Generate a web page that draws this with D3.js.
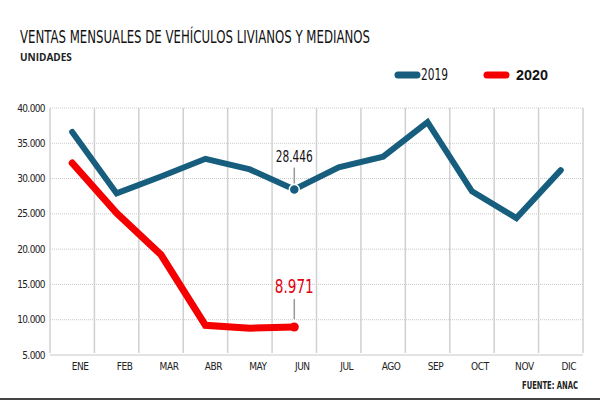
<!DOCTYPE html>
<html>
<head>
<meta charset="utf-8">
<script src="https://cdn.jsdelivr.net/npm/d3@7"></script>
<style>
  body { margin: 0; background: #fff; }
  svg { display: block; }
</style>
</head>
<body>
<svg width="600" height="400"></svg>
<script>
// datos (unidades)
const months = ["ENE","FEB","MAR","ABR","MAY","JUN","JUL","AGO","SEP","OCT","NOV","DIC"];
const sales2019 = [36600, 27900, 30300, 32800, 31300, 28446, 31600, 33100, 38000, 28200, 24400, 31200];
const sales2020 = [32200, 25100, 19200, 9200, 8800, 8971];
const yTicks = [5000, 10000, 15000, 20000, 25000, 30000, 35000, 40000];

const COND = "'DejaVu Sans Condensed', 'Liberation Sans Narrow', sans-serif";
const BLUE = "#175e7e", RED = "#f50000";

const svg = d3.select("svg");
const width = +svg.attr("width");
const height = +svg.attr("height");
const margin = {top: 108, right: 17, bottom: 45, left: 50};
const innerWidth = width - margin.left - margin.right;
const innerHeight = height - margin.top - margin.bottom;

const fmt = d => d3.format(",")(d).replace(/,/g, ".");

const x = d3.scaleBand().domain(months).range([margin.left, margin.left + innerWidth]);
const y = d3.scaleLinear().domain([5000, 40000]).range([margin.top + innerHeight, margin.top]);
const xc = m => x(m) + x.bandwidth() / 2;

// grid horizontal (punteado)
svg.selectAll(".hgrid").data(yTicks).enter().append("line")
  .attr("x1", x.range()[0]).attr("x2", x.range()[1])
  .attr("y1", d => y(d)).attr("y2", d => y(d))
  .attr("stroke", "#c8c8c8").attr("stroke-width", 1)
  .attr("stroke-dasharray", d => d === 5000 ? null : "1,1");

// grid vertical
const vEdges = months.map(m => x(m)).concat([x.range()[1]]);
svg.selectAll(".vgrid").data(vEdges).enter().append("line")
  .attr("x1", d => d).attr("x2", d => d)
  .attr("y1", y(40000)).attr("y2", y(5000) - 2)
  .attr("stroke", "#d0d0d0").attr("stroke-width", 1.5);

// etiquetas eje y
svg.selectAll(".ylab").data(yTicks).enter().append("text")
  .attr("x", x.range()[0] - 5).attr("y", d => y(d) + 3.5)
  .attr("text-anchor", "end")
  .style("font-family", COND).style("font-size", "10px")
  .style("letter-spacing", "-0.6px").attr("fill", "#222")
  .text(fmt);

// etiquetas eje x
svg.selectAll(".xlab").data(months).enter().append("text")
  .attr("x", d => xc(d) + 8).attr("y", y(5000) + 15)
  .attr("text-anchor", "middle")
  .style("font-family", COND).style("font-size", "10px")
  .style("letter-spacing", "-0.4px").attr("fill", "#222")
  .text(d => d);

const line = d3.line().x((d, i) => xc(months[i])).y(d => y(d));

svg.append("path").datum(sales2019).attr("d", line)
  .attr("fill", "none").attr("stroke", BLUE).attr("stroke-width", 6)
  .attr("stroke-linejoin", "miter").attr("stroke-linecap", "round");

svg.append("path").datum(sales2020).attr("d", line)
  .attr("fill", "none").attr("stroke", RED).attr("stroke-width", 7)
  .attr("stroke-linejoin", "miter").attr("stroke-linecap", "round");

// anotaciones JUN
const jun = months[5];
svg.append("line").attr("x1", xc(jun)).attr("x2", xc(jun))
  .attr("y1", y(sales2019[5]) - 22).attr("y2", y(sales2019[5]) - 6)
  .attr("stroke", "#999").attr("stroke-width", 1.5);
svg.append("circle").attr("cx", xc(jun)).attr("cy", y(sales2019[5])).attr("r", 5)
  .attr("fill", BLUE).attr("stroke", "#fff").attr("stroke-width", 1.5);
svg.append("text").attr("x", xc(jun)).attr("y", y(sales2019[5]) - 28)
  .attr("text-anchor", "middle").attr("textLength", 37).attr("lengthAdjust", "spacingAndGlyphs")
  .style("font-family", COND).style("font-size", "16px").attr("fill", "#111")
  .text(fmt(sales2019[5]));

svg.append("line").attr("x1", xc(jun)).attr("x2", xc(jun))
  .attr("y1", y(sales2020[5]) - 28).attr("y2", y(sales2020[5]) - 8)
  .attr("stroke", "#999").attr("stroke-width", 1.5);
svg.append("circle").attr("cx", xc(jun)).attr("cy", y(sales2020[5])).attr("r", 4.5)
  .attr("fill", RED);
svg.append("text").attr("x", xc(jun)).attr("y", y(sales2020[5]) - 34)
  .attr("text-anchor", "middle").attr("textLength", 39).attr("lengthAdjust", "spacingAndGlyphs")
  .style("font-family", COND).style("font-size", "20px").attr("fill", "#e3000f")
  .text(fmt(sales2020[5]));

// titulo
svg.append("text").attr("x", 20).attr("y", 43)
  .attr("textLength", 350).attr("lengthAdjust", "spacingAndGlyphs")
  .style("font-family", COND).style("font-size", "18px").attr("fill", "#111")
  .text("VENTAS MENSUALES DE VEHÍCULOS LIVIANOS Y MEDIANOS");
svg.append("text").attr("x", 20).attr("y", 61)
  .style("font-family", "'Open Sans', sans-serif").style("font-size", "10px")
  .style("font-weight", "bold").attr("fill", "#222").text("UNIDADES");

// leyenda
const legend = [
  {label: "2019", color: BLUE, x: 398, tx: 421, weight: "normal", font: COND, len: 27},
  {label: "2020", color: RED, x: 487, tx: 516, weight: "bold", font: "'Liberation Sans', Arial, sans-serif", len: 32}
];
const lg = svg.selectAll(".lg").data(legend).enter().append("g");
lg.append("line").attr("x1", d => d.x).attr("x2", d => d.x + 19).attr("y1", 75).attr("y2", 75)
  .attr("stroke", d => d.color).attr("stroke-width", 7).attr("stroke-linecap", "round");
lg.append("text").attr("x", d => d.tx).attr("y", 80)
  .attr("textLength", d => d.len).attr("lengthAdjust", "spacingAndGlyphs")
  .style("font-family", d => d.font)
  .style("font-size", "15px").style("font-weight", d => d.weight)
  .attr("fill", "#111").text(d => d.label);

// fuente
svg.append("text").attr("x", 578).attr("y", 389)
  .attr("text-anchor", "end").attr("textLength", 56).attr("lengthAdjust", "spacingAndGlyphs")
  .style("font-family", COND).style("font-size", "11px").style("font-weight", "bold")
  .attr("fill", "#222").text("FUENTE: ANAC");

// borde inferior
svg.append("line").attr("x1", 0).attr("x2", width).attr("y1", 399).attr("y2", 399)
  .attr("stroke", "#444").attr("stroke-width", 2);
</script>
</body>
</html>
